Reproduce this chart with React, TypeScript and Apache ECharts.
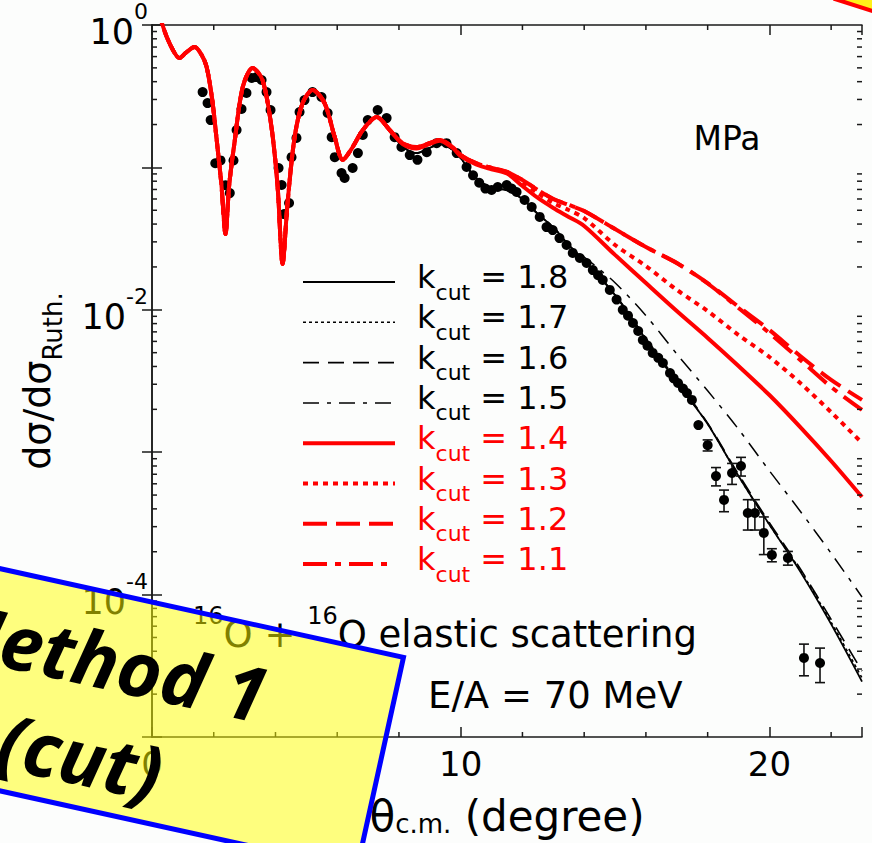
import React, { useEffect, useRef } from "react";
import * as echarts from "echarts";

// ---------- data ----------
const xTickLabels = [0, 10, 20];
const yTickExponents = [0, -2, -4];
const xMinorTickValues = [2, 4, 6, 8, 12, 14, 16, 18, 22];
const yMinorMantissas = [2, 3, 4, 5, 6, 7, 8, 9];
const yDecades = [-5, -4, -3, -2, -1];

const kcutLabels = ["1.8", "1.7", "1.6", "1.5", "1.4", "1.3", "1.2", "1.1"];

// part of the curves that all k_cut values share (degree, dσ/dσRuth)
const thetaShared = [0.15, 0.34, 0.6, 0.89, 1.1, 1.38, 1.6, 1.77, 1.95, 2.09, 2.25, 2.38, 2.5, 2.67, 2.94, 3.26, 3.58, 3.87, 4.07, 4.23, 4.39, 4.62, 4.88, 5.2, 5.59, 5.92, 6.18, 6.5, 6.83, 7.28];
const sigmaShared = [1.5, 1.0, 0.72, 0.586, 0.64, 0.7, 0.62, 0.507, 0.3, 0.16, 0.075, 0.034, 0.075, 0.148, 0.367, 0.499, 0.411, 0.192, 0.073, 0.021, 0.056, 0.163, 0.283, 0.349, 0.283, 0.163, 0.113, 0.139, 0.183, 0.226];

const thetaTail = [7.7, 8.12, 8.57, 8.99, 9.32, 9.74, 10.0, 10.5, 11.0, 11.5, 12.0, 12.5, 13.0, 13.5, 14.0, 15.0, 16.0, 17.0, 18.0, 19.0, 20.0, 21.0, 22.0, 23.0];
const tailK18 = [0.18, 0.14, 0.126, 0.137, 0.145, 0.133, 0.116, 0.084, 0.072, 0.069, 0.06, 0.047, 0.038, 0.0285, 0.0222, 0.0127, 0.0062, 0.0031, 0.00158, 0.00068, 0.00031, 0.000145, 0.000062, 0.0000245];
const tailK17 = [0.18, 0.14, 0.126, 0.137, 0.145, 0.133, 0.116, 0.084, 0.072, 0.069, 0.06, 0.047, 0.038, 0.0285, 0.0222, 0.0127, 0.0062, 0.0031, 0.00158, 0.00068, 0.00031, 0.000148, 0.000064, 0.000026];
const tailK16 = [0.18, 0.14, 0.126, 0.137, 0.145, 0.133, 0.116, 0.084, 0.072, 0.069, 0.06, 0.047, 0.038, 0.0285, 0.0222, 0.0128, 0.0063, 0.0032, 0.0016, 0.0007, 0.00032, 0.000152, 0.000067, 0.000029];
const tailK15 = [0.18, 0.14, 0.126, 0.137, 0.145, 0.133, 0.116, 0.084, 0.072, 0.069, 0.06, 0.047, 0.038, 0.0285, 0.0235, 0.0155, 0.0091, 0.0049, 0.0027, 0.00145, 0.00074, 0.000385, 0.000195, 0.0000962];
const tailK14 = [0.183, 0.146, 0.136, 0.146, 0.154, 0.137, 0.12, 0.105, 0.097, 0.0905, 0.074, 0.061, 0.0519, 0.0449, 0.0388, 0.0243, 0.0154, 0.0098, 0.00634, 0.00403, 0.00252, 0.0015, 0.000867, 0.000484];
const tailK13 = [0.183, 0.148, 0.139, 0.148, 0.156, 0.139, 0.122, 0.107, 0.099, 0.0929, 0.0789, 0.066, 0.0562, 0.0502, 0.0441, 0.0285, 0.0203, 0.0138, 0.0098, 0.00665, 0.00466, 0.00306, 0.00191, 0.00116];
const tailK12 = [0.183, 0.148, 0.139, 0.148, 0.156, 0.139, 0.122, 0.107, 0.099, 0.0929, 0.0816, 0.0694, 0.06, 0.0545, 0.0494, 0.0369, 0.0276, 0.0213, 0.0154, 0.0105, 0.00722, 0.00474, 0.00322, 0.00233];
const tailK11 = [0.183, 0.148, 0.139, 0.148, 0.156, 0.139, 0.122, 0.107, 0.099, 0.0929, 0.0816, 0.0694, 0.06, 0.0545, 0.0494, 0.0369, 0.0276, 0.0213, 0.0153, 0.0103, 0.00687, 0.00445, 0.00287, 0.00198];
const curveTails = [tailK18, tailK17, tailK16, tailK15, tailK14, tailK13, tailK12, tailK11];

// experimental points
const expTheta = [1.64, 1.8, 1.9, 2.05, 2.22, 2.38, 2.52, 2.64, 2.74, 2.9, 3.06, 3.23, 3.39, 3.55, 3.71, 3.84, 4.1, 4.2, 4.28, 4.44, 4.52, 4.68, 4.78, 4.94, 5.2, 5.49, 5.69, 5.82, 5.92, 6.14, 6.24, 6.5, 6.67, 6.83, 6.99, 7.31, 7.6, 7.86, 8.08, 8.35, 8.6, 8.9, 9.22, 9.54, 9.87, 10.19, 10.4, 10.6, 10.8, 11.0, 11.2, 11.49, 11.65, 11.81, 12.07, 12.3, 12.56, 12.78, 12.98, 13.2, 13.43, 13.63, 13.86, 14.08, 14.28, 14.45, 14.6, 14.83, 15.05, 15.25, 15.42, 15.58, 15.75, 15.9, 16.05, 16.22, 16.4, 16.55, 16.78, 16.9, 17.04, 17.2, 17.33, 17.49, 17.7, 18.0, 18.27, 18.53, 18.79, 19.08, 19.3, 19.53, 19.82, 20.08, 20.6, 21.12, 21.64];
const expSigma = [0.338, 0.283, 0.215, 0.107, 0.112, 0.075, 0.066, 0.112, 0.183, 0.257, 0.333, 0.425, 0.431, 0.411, 0.338, 0.253, 0.099, 0.0752, 0.047, 0.0562, 0.118, 0.161, 0.245, 0.297, 0.338, 0.312, 0.241, 0.163, 0.118, 0.0914, 0.0843, 0.099, 0.126, 0.169, 0.215, 0.253, 0.222, 0.163, 0.139, 0.122, 0.113, 0.128, 0.148, 0.148, 0.126, 0.1007, 0.088, 0.078, 0.071, 0.0694, 0.0728, 0.0752, 0.071, 0.0672, 0.059, 0.0527, 0.0449, 0.0381, 0.0363, 0.0319, 0.0285, 0.0251, 0.0231, 0.0213, 0.019, 0.0175, 0.0162, 0.0138, 0.0118, 0.01, 0.0091, 0.00808, 0.0071, 0.00614, 0.0056, 0.00498, 0.0046, 0.00423, 0.0036, 0.0033, 0.00306, 0.0028, 0.0026, 0.00233, 0.00155, 0.00112, 0.00068, 0.000462, 0.000714, 0.0008, 0.000374, 0.000374, 0.000271, 0.00019, 0.000181, 0.0000359, 0.0000331];
const expErr = [0.01, 0.01, 0.008, 0.004, 0.004, 0.003, 0.003, 0.004, 0.006, 0.008, 0.01, 0.012, 0.012, 0.012, 0.01, 0.008, 0.004, 0.003, 0.002, 0.003, 0.004, 0.005, 0.008, 0.009, 0.01, 0.009, 0.007, 0.005, 0.004, 0.003, 0.003, 0.003, 0.004, 0.005, 0.006, 0.007, 0.006, 0.005, 0.004, 0.004, 0.003, 0.004, 0.004, 0.004, 0.004, 0.003, 0.003, 0.002, 0.002, 0.002, 0.002, 0.002, 0.002, 0.002, 0.002, 0.002, 0.0015, 0.0013, 0.0012, 0.001, 0.001, 0.0009, 0.0008, 0.0008, 0.0007, 0.0007, 0.0006, 0.0005, 0.0005, 0.0004, 0.0004, 0.0004, 0.0003, 0.0003, 0.0003, 0.00025, 0.00025, 0.0002, 0.0002, 0.0002, 0.0002, 0.0002, 0.0002, 0.0002, 0.00013, 0.0001, 0.0001, 0.00008, 0.00012, 0.00012, 0.00009, 0.00009, 0.00008, 0.00002, 0.00002, 0.000009, 0.000009];

// ---------- styles ----------
const FONT = "DejaVu Sans";
const RED = "#ff0000";
const curveColors = ["#000", "#000", "#000", "#000", RED, RED, RED, RED];
const curveWidths = [1.8, 1.6, 1.6, 1.5, 4, 4, 4, 4];
const curveDashes: any[] = ["solid", [3, 3], [16, 9], [16, 8, 4, 8], "solid", [5, 5], [24, 9], [24, 8, 6, 8]];

const X_MIN = 0, X_MAX = 23, Y_MIN = 1e-5, Y_MAX = 1;

export default function App() {
  const ref = useRef<HTMLDivElement>(null);

  useEffect(() => {
    const chart = echarts.init(ref.current!, null, { renderer: "svg" });

    const curveSeries = kcutLabels.map((k, i) => ({
      type: "line",
      name: "kcut = " + k,
      xAxisIndex: 0,
      yAxisIndex: 0,
      data: thetaShared
        .map((t, j) => [t, sigmaShared[j]])
        .concat(thetaTail.map((t, j) => [t, curveTails[i][j]])),
      showSymbol: false,
      symbol: "none",
      smooth: 0.3,
      silent: true,
      z: i < 4 ? 2 : 4,
      lineStyle: { color: curveColors[i], width: curveWidths[i], type: curveDashes[i], cap: "butt" },
    }));

    const tickData: number[][] = [];
    xMinorTickValues.forEach((v) => tickData.push([v, Y_MIN, 0]));
    yDecades.forEach((d) => yMinorMantissas.forEach((m) => tickData.push([X_MIN, m * Math.pow(10, d), 1])));

    const tickStyle = { stroke: "#1a1a1a", lineWidth: 1.5 };

    const option: any = {
      animation: false,
      backgroundColor: "#fcfdfc",
      grid: { left: 152, right: 10, top: 25, bottom: 106, containLabel: false },
      xAxis: [
        {
          type: "value",
          min: X_MIN,
          max: X_MAX,
          interval: 10,
          position: "bottom",
          axisLine: { lineStyle: { color: "#1a1a1a", width: 1.5 } },
          axisTick: { inside: true, length: 10, lineStyle: { color: "#1a1a1a", width: 1.5 } },
          splitLine: { show: false },
          axisLabel: {
            formatter: (v: number) => (xTickLabels.includes(v) ? String(v) : ""),
            fontSize: 34,
            fontFamily: FONT,
            color: "#000",
            margin: 10,
          },
          name: "{m|θ}{s|c.m.}{m| (degree)}",
          nameLocation: "middle",
          nameGap: 58,
          nameTextStyle: {
            rich: {
              m: { fontSize: 42, fontFamily: FONT, color: "#000" },
              s: { fontSize: 26, fontFamily: FONT, color: "#000", verticalAlign: "bottom" },
            },
          },
        },
        {
          type: "value",
          min: X_MIN,
          max: X_MAX,
          interval: 10,
          position: "top",
          axisLine: { lineStyle: { color: "#1a1a1a", width: 1.5 } },
          axisTick: { inside: true, length: 10, lineStyle: { color: "#1a1a1a", width: 1.5 } },
          axisLabel: { show: false },
          splitLine: { show: false },
        },
      ],
      yAxis: [
        {
          type: "log",
          logBase: 10,
          min: Y_MIN,
          max: Y_MAX,
          splitNumber: 5,
          position: "left",
          axisLine: { lineStyle: { color: "#1a1a1a", width: 1.5 } },
          axisTick: { inside: true, length: 10, lineStyle: { color: "#1a1a1a", width: 1.5 } },
          splitLine: { show: false },
          minorTick: { show: false },
          axisLabel: {
            margin: 4,
            formatter: (v: number) => {
              const e = Math.round(Math.log10(v));
              return yTickExponents.includes(e) ? "{b|10}{s|" + e + "}" : "";
            },
            rich: {
              b: { fontSize: 35, fontFamily: FONT, color: "#000", padding: [14, 0, 0, 0] },
              s: { fontSize: 22, fontFamily: FONT, color: "#000", verticalAlign: "top" },
            },
          },
          name: "{m|dσ/dσ}{s|Ruth.}",
          nameLocation: "middle",
          nameRotate: 90,
          nameGap: 86,
          nameTextStyle: {
            rich: {
              m: { fontSize: 38, fontFamily: FONT, color: "#000", padding: [0, 0, 10, 0] },
              s: { fontSize: 26, fontFamily: FONT, color: "#000", verticalAlign: "bottom" },
            },
          },
        },
        {
          type: "log",
          logBase: 10,
          min: Y_MIN,
          max: Y_MAX,
          splitNumber: 5,
          position: "right",
          axisLine: { lineStyle: { color: "#1a1a1a", width: 1.5 } },
          axisTick: { inside: true, length: 10, lineStyle: { color: "#1a1a1a", width: 1.5 } },
          axisLabel: { show: false },
          splitLine: { show: false },
        },
      ],
      series: [
        ...curveSeries.slice(0, 4),
        {
          type: "custom",
          name: "errors",
          xAxisIndex: 0,
          yAxisIndex: 0,
          z: 3,
          silent: true,
          encode: { x: 0, y: 1 },
          data: expTheta.map((t, i) => [t, expSigma[i], expErr[i]]),
          renderItem: (params: any, api: any) => {
            const x = api.value(0), y = api.value(1), e = api.value(2);
            const hi = api.coord([x, y + e]);
            const lo = api.coord([x, y - e]);
            if (lo[1] - hi[1] < 11) return { type: "group", children: [] };
            const w = 5;
            const st = { stroke: "#111", lineWidth: 1.6 };
            return {
              type: "group",
              children: [
                { type: "line", shape: { x1: hi[0], y1: hi[1], x2: lo[0], y2: lo[1] }, style: st },
                { type: "line", shape: { x1: hi[0] - w, y1: hi[1], x2: hi[0] + w, y2: hi[1] }, style: st },
                { type: "line", shape: { x1: lo[0] - w, y1: lo[1], x2: lo[0] + w, y2: lo[1] }, style: st },
              ],
            };
          },
        },
        {
          type: "scatter",
          name: "data",
          xAxisIndex: 0,
          yAxisIndex: 0,
          z: 3,
          silent: true,
          symbol: "circle",
          symbolSize: 10,
          itemStyle: { color: "#000", opacity: 1 },
          data: expTheta.map((t, i) => [t, expSigma[i]]),
        },
        ...curveSeries.slice(4).reverse(),
        {
          type: "custom",
          name: "minorTicks",
          xAxisIndex: 0,
          yAxisIndex: 0,
          z: 6,
          silent: true,
          clip: false,
          encode: { x: 0, y: 1 },
          data: tickData,
          renderItem: (params: any, api: any) => {
            const kind = api.value(2);
            if (kind === 0) {
              const v = api.value(0);
              const b = api.coord([v, Y_MIN]);
              const t = api.coord([v, Y_MAX]);
              return {
                type: "group",
                children: [
                  { type: "line", shape: { x1: b[0], y1: b[1], x2: b[0], y2: b[1] - 5 }, style: tickStyle },
                  { type: "line", shape: { x1: t[0], y1: t[1], x2: t[0], y2: t[1] + 5 }, style: tickStyle },
                ],
              };
            }
            const v = api.value(1);
            const l = api.coord([X_MIN, v]);
            const r = api.coord([X_MAX, v]);
            return {
              type: "group",
              children: [
                { type: "line", shape: { x1: l[0], y1: l[1], x2: l[0] + 5, y2: l[1] }, style: tickStyle },
                { type: "line", shape: { x1: r[0], y1: r[1], x2: r[0] - 5, y2: r[1] }, style: tickStyle },
              ],
            };
          },
        },
      ],
      graphic: [] as any[],
    };

    // legend (built from the same labels/styles as the curves)
    const legendTop = 282;
    const legendStep = 40.3;
    kcutLabels.forEach((k, i) => {
      const y = legendTop + i * legendStep;
      const dash = curveDashes[i];
      option.graphic.push({
        type: "line",
        z: 50,
        silent: true,
        shape: { x1: 303, y1: y, x2: 395, y2: y },
        style: {
          stroke: curveColors[i],
          lineWidth: curveWidths[i],
          lineDash: dash === "solid" ? null : dash,
        },
      });
      option.graphic.push({
        type: "text",
        z: 50,
        silent: true,
        x: 417,
        y: y,
        style: {
          text: "{k|k}{c|cut}{k| = " + k + "}",
          fill: curveColors[i],
          verticalAlign: "middle",
          align: "left",
          rich: {
            k: { fontSize: 32, fontFamily: FONT, fill: curveColors[i], padding: [0, 0, 10, 0] },
            c: { fontSize: 22, fontFamily: FONT, fill: curveColors[i], verticalAlign: "bottom" },
          },
        },
      });
    });

    option.graphic.push(
      {
        type: "text",
        z: 50,
        silent: true,
        x: 727,
        y: 138,
        style: { text: "MPa", fontSize: 33, fontFamily: FONT, fill: "#000", align: "center", verticalAlign: "middle" },
      },
      {
        type: "text",
        z: 50,
        silent: true,
        x: 193,
        y: 628,
        style: {
          text: "{s|16}{m|O + }{s|16}{m|O elastic scattering}",
          fill: "#000",
          align: "left",
          verticalAlign: "middle",
          rich: {
            m: { fontSize: 37, fontFamily: FONT, fill: "#000", padding: [12, 0, 0, 0] },
            s: { fontSize: 24, fontFamily: FONT, fill: "#000", verticalAlign: "top" },
          },
        },
      },
      {
        type: "text",
        z: 50,
        silent: true,
        x: 428,
        y: 695,
        style: { text: "E/A = 70 MeV", fontSize: 37, fontFamily: FONT, fill: "#000", align: "left", verticalAlign: "middle" },
      },
      // rotated yellow note box
      {
        type: "group",
        z: 100,
        silent: true,
        x: -171,
        y: 531,
        rotation: -0.2165,
        children: [
          {
            type: "rect",
            z: 100,
            shape: { x: 0, y: 0, width: 588, height: 217 },
            style: { fill: "rgba(255,255,0,0.5)", stroke: "#0000ff", lineWidth: 5 },
          },
          {
            type: "text",
            z: 101,
            x: 294,
            y: 66,
            style: {
              text: "Method 1",
              fontSize: 76,
              fontFamily: "Open Sans",
              fontWeight: "bold",
              fontStyle: "italic",
              fill: "#000",
              align: "center",
              verticalAlign: "middle",
            },
          },
          {
            type: "text",
            z: 101,
            x: 294,
            y: 165,
            style: {
              text: "(cut)",
              fontSize: 76,
              fontFamily: "Open Sans",
              fontWeight: "bold",
              fontStyle: "italic",
              fill: "#000",
              align: "center",
              verticalAlign: "middle",
            },
          },
        ],
      },
      // corner of another note box at the top right
      {
        type: "polygon",
        z: 100,
        silent: true,
        shape: { points: [[835, -1], [882, 14], [882, -40], [835, -40]] },
        style: { fill: "rgba(255,240,0,0.9)", stroke: RED, lineWidth: 4 },
      }
    );

    chart.setOption(option);
    return () => chart.dispose();
  }, []);

  return (
    <div
      ref={ref}
      style={{ position: "fixed", left: 0, top: 0, width: 872, height: 843, background: "#fcfdfc" }}
    />
  );
}
